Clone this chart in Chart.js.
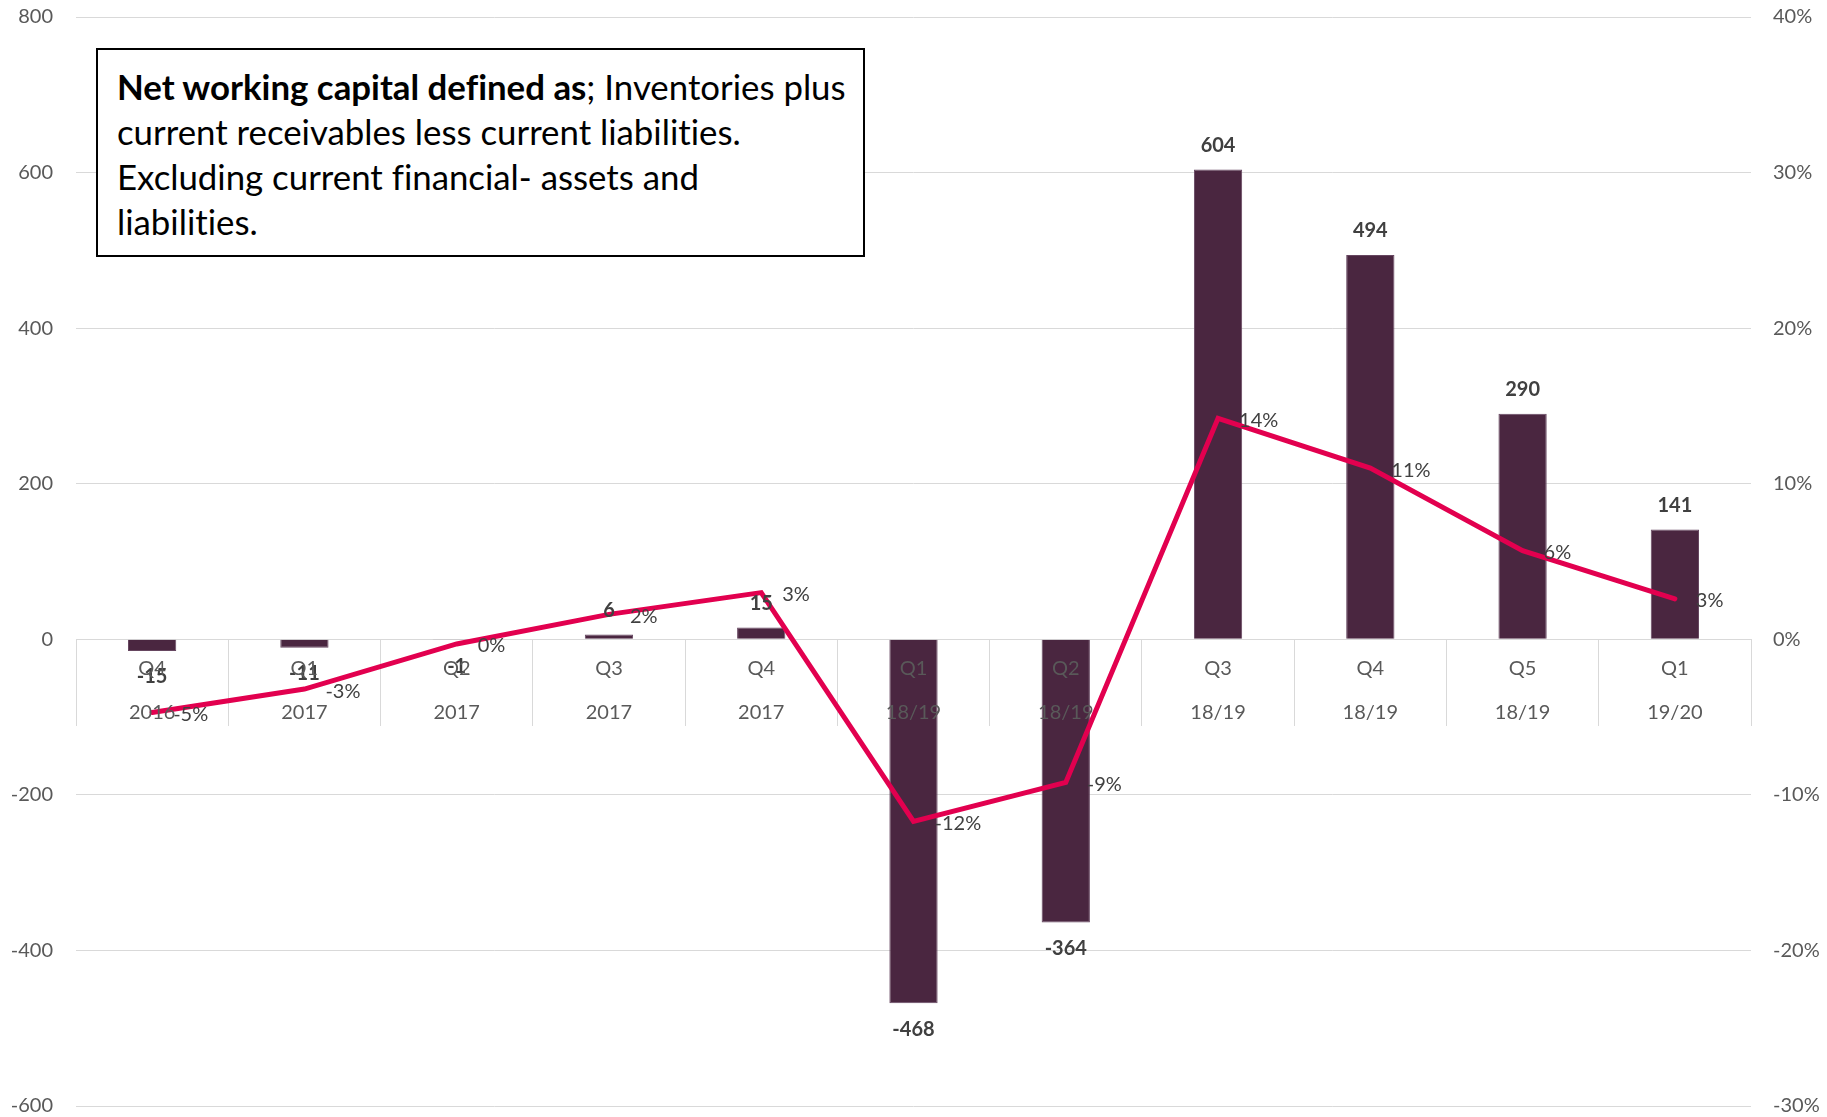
<!DOCTYPE html>
<html>
<head>
<meta charset="utf-8">
<title>Net working capital</title>
<script src="https://cdn.jsdelivr.net/npm/chart.js@4/dist/chart.umd.min.js"></script>
<style>
  html, body { margin: 0; padding: 0; background: #ffffff; overflow: hidden; }
  #wrap { position: relative; width: 1827px; height: 1117px; }
  #nwc { position: absolute; left: 0; top: 0; }
  #note {
    position: absolute; left: 96px; top: 48px; width: 769px; height: 209px;
    box-sizing: border-box; border: 2px solid #000; background: #fff;
    padding: 14px 0 0 19px;
    font-family: Lato, "Open Sans", sans-serif; font-size: 34.8px; line-height: 45px; color: #000;
    font-variant-ligatures: none; white-space: nowrap;
  }
  #note b { font-weight: 700; }
</style>
</head>
<body>
<div id="wrap">
  <canvas id="nwc" width="1827" height="1117"></canvas>
  <div id="note"><b>Net working capital defined as</b>; Inventories plus<br>current receivables less current liabilities.<br>Excluding current financial- assets and<br>liabilities.</div>
</div>
<script>
// Quarter and period for each category (two-line axis labels)
const quarters = ['Q4', 'Q1', 'Q2', 'Q3', 'Q4', 'Q1', 'Q2', 'Q3', 'Q4', 'Q5', 'Q1'];
const periods  = ['2016', '2017', '2017', '2017', '2017', '18/19', '18/19', '18/19', '18/19', '18/19', '19/20'];

// Net working capital (left axis)
const nwcValues = [-15, -11, -1, 6, 15, -468, -364, 604, 494, 290, 141];

// Net working capital as share of sales, % (right axis)
const nwcPercent = [-4.7, -3.2, -0.3, 1.6, 3.0, -11.7, -9.2, 14.2, 11.0, 5.7, 2.6];

// Axis ranges
const leftTicks  = { min: -600, max: 800, step: 200 };
const rightTicks = { min: -30, max: 40, step: 10 };

const labels = quarters.map((q, i) => [q, periods[i]]);

const FONT = 'Lato, "Open Sans", sans-serif';
const GRID = '#d9d9d9';
const TICK = '#595959';
const LABEL = '#404040';

// Side axes: fixed width, no extra label padding above/below the plot
function fixSide(scale) {
  scale.width = 76;
  scale.paddingTop = 0;
  scale.paddingBottom = 0;
}

// Value labels: bold under/over each bar, percentages to the right of each line point
const valueLabels = {
  id: 'valueLabels',
  afterDatasetsDraw(chart) {
    const ctx = chart.ctx;
    ctx.save();
    const barMeta = chart.getDatasetMeta(1);
    ctx.font = 'bold 20px ' + FONT;
    ctx.fillStyle = LABEL;
    ctx.textAlign = 'center';
    ctx.textBaseline = 'middle';
    barMeta.data.forEach((el, i) => {
      const v = nwcValues[i];
      const y = v >= 0 ? el.y - 24 : el.y + 26;
      ctx.fillText(String(v), el.x, y);
    });
    const lineMeta = chart.getDatasetMeta(0);
    ctx.font = '20px ' + FONT;
    ctx.textAlign = 'left';
    lineMeta.data.forEach((el, i) => {
      const p = Math.round(nwcPercent[i]);
      ctx.fillText((p === 0 ? 0 : p) + '%', el.x + 21, el.y + 2);
    });
    ctx.restore();
  }
};

new Chart(document.getElementById('nwc'), {
  data: {
    labels: labels,
    datasets: [
      {
        type: 'line',
        label: 'NWC %',
        data: nwcPercent,
        yAxisID: 'y2',
        borderColor: '#E2004F',
        borderWidth: 5,
        tension: 0,
        pointRadius: 0,
        borderCapStyle: 'round',
        borderJoinStyle: 'miter',
        order: 0
      },
      {
        type: 'bar',
        label: 'NWC',
        data: nwcValues,
        yAxisID: 'y',
        backgroundColor: '#4A2640',
        borderColor: '#664660',
        borderWidth: 1,
        categoryPercentage: 1,
        barPercentage: 0.317,
        order: 1
      }
    ]
  },
  options: {
    responsive: false,
    animation: false,
    layout: { padding: { top: 17, bottom: 11, left: 0, right: 0 } },
    plugins: { legend: { display: false }, tooltip: { enabled: false } },
    scales: {
      x: {
        position: { y: 0 },
        offset: true,
        afterFit(scale) { scale.paddingLeft = 0; scale.paddingRight = 0; },
        grid: { offset: true, drawOnChartArea: false, drawTicks: true, tickLength: 86, color: GRID, lineWidth: 1 },
        border: { display: true, color: GRID, width: 1 },
        ticks: {
          z: 1,
          color: TICK,
          font: { family: FONT, size: 20, lineHeight: 2.2 },
          padding: -79,
          maxRotation: 0,
          autoSkip: false
        }
      },
      y: {
        position: 'left',
        min: leftTicks.min,
        max: leftTicks.max,
        afterFit: fixSide,
        grid: { color: GRID, lineWidth: 1, drawTicks: false },
        border: { display: false },
        ticks: {
          stepSize: leftTicks.step,
          color: TICK,
          padding: 23,
          font: { family: FONT, size: 20 }
        }
      },
      y2: {
        position: 'right',
        min: rightTicks.min,
        max: rightTicks.max,
        afterFit: fixSide,
        grid: { drawOnChartArea: false, drawTicks: false },
        border: { display: false },
        ticks: {
          stepSize: rightTicks.step,
          color: TICK,
          padding: 22,
          font: { family: FONT, size: 20 },
          callback: v => v + '%'
        }
      }
    }
  },
  plugins: [valueLabels]
});
</script>
</body>
</html>
